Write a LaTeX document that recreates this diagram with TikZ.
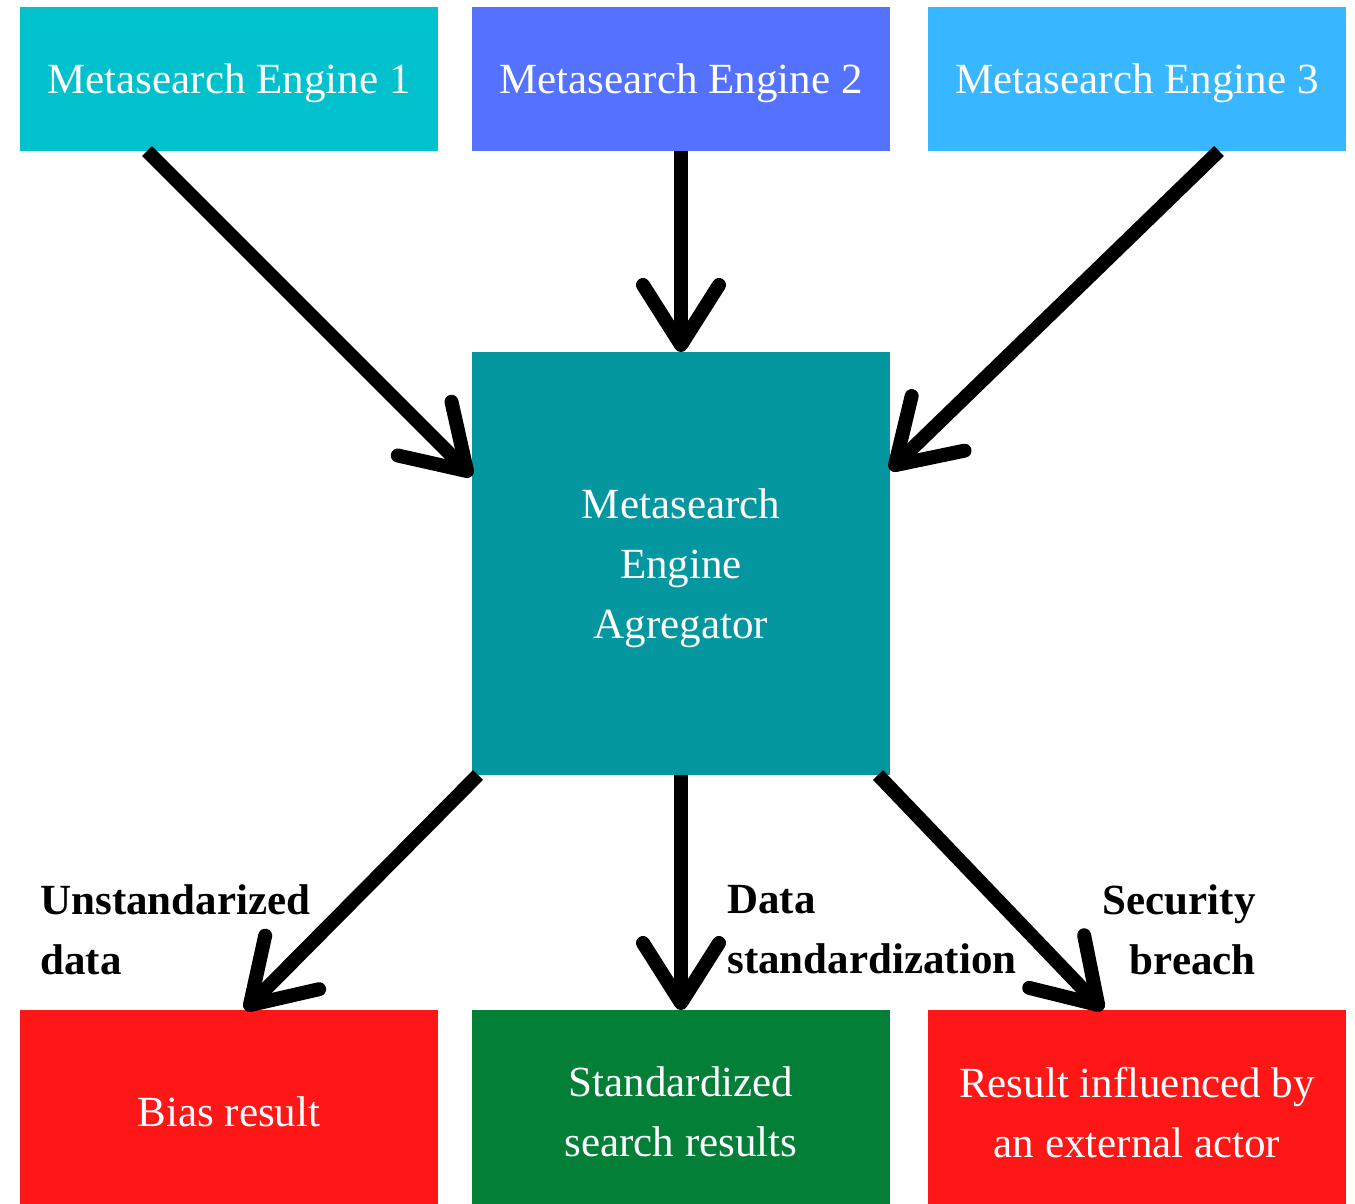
\documentclass[tikz,border=0pt]{standalone}
\usepackage{fontspec}
\setmainfont{Liberation Serif}
\usepackage{tikz}
\usetikzlibrary{shapes, arrows.meta, positioning}
\definecolor{engA}{RGB}{0,193,204}
\definecolor{engB}{RGB}{84,114,255}
\definecolor{engC}{RGB}{56,182,255}
\definecolor{aggcol}{RGB}{5,151,159}
\definecolor{badcol}{RGB}{255,22,22}
\definecolor{goodcol}{RGB}{3,127,56}
\tikzstyle{box}=[rectangle,inner sep=0pt,outer sep=0pt,minimum width=209pt,text=white,text depth=0pt,align=center,font=\fontsize{21.5}{30}\selectfont]
\tikzstyle{engine}=[box,minimum height=72pt]
\tikzstyle{result}=[box,minimum height=102pt,fill=badcol]
\tikzstyle{lbl}=[inner sep=0pt,font=\fontsize{21.5}{30}\selectfont\bfseries]
\tikzstyle{flow}=[line width=7pt,-{Straight Barb[length=30pt,width=38pt,round]}]

\begin{document}
\begin{tikzpicture}
    \useasboundingbox (0,0) rectangle (677.5pt,-602pt);
    \node[engine, fill=engA] (e1) at (114.5pt,-39.5pt) {Metasearch Engine 1};
    \node[engine, fill=engB, right=17pt of e1] (e2) {Metasearch Engine 2};
    \node[engine, fill=engC, right=19pt of e2] (e3) {Metasearch Engine 3};
    \node[box, fill=aggcol, minimum height=211.5pt, below=100.5pt of e2] (agg) {Metasearch\\Engine\\Agregator};
    \node[result, fill=goodcol, below=117.5pt of agg] (std) {Standardized\\search results};
    \node[result, left=17pt of std] (bias) {Bias result};
    \node[result, right=19pt of std] (ext) {Result influenced by\\an external actor};
    \node[lbl, anchor=west, align=left] (l1) at ([xshift=10pt,yshift=40pt]bias.north west) {Unstandarized\\data};
    \node[lbl, anchor=west, align=left] (l2) at ([xshift=127.5pt,yshift=40pt]std.north west) {Data\\standardization};
    \node[lbl, anchor=east, align=right] (l3) at ([xshift=-45pt,yshift=40pt]ext.north east) {Security\\breach};
    \draw[flow] ([xshift=-41pt]e1.south) -- ([yshift=-62pt]agg.north west);
    \draw[flow] (e2.south) -- (agg.north);
    \draw[flow] ([xshift=41pt]e3.south) -- ([yshift=-59pt]agg.north east);
    \draw[flow] ([xshift=3pt]agg.south west) -- ([xshift=8pt]bias.north);
    \draw[flow] (agg.south) -- (std.north);
    \draw[flow] ([xshift=-6pt]agg.south east) -- ([xshift=-17pt]ext.north);
\end{tikzpicture}
\end{document}
